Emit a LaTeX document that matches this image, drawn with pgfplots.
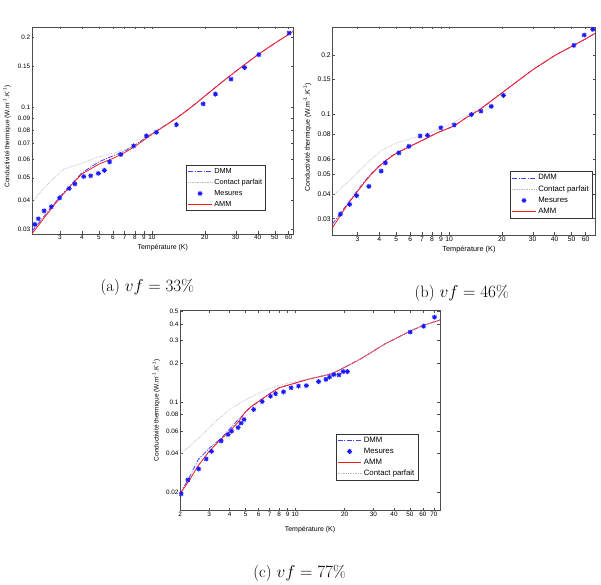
\documentclass[border=0pt]{standalone}
\usepackage{pgfplots}
\pgfplotsset{compat=1.18}
\usepackage{fontspec}
\newfontfamily\arial{Liberation Sans}

\definecolor{dmmblue}{rgb}{0.25,0.25,1}
\definecolor{cpgray}{rgb}{0.72,0.72,0.78}
\definecolor{mesblue}{rgb}{0.1,0.1,1}
\definecolor{ammred}{rgb}{1,0.1,0.1}

\pgfdeclareplotmark{mstar}{%
  \pgfpathmoveto{\pgfqpoint{-\pgfplotmarksize}{0pt}}\pgfpathlineto{\pgfqpoint{\pgfplotmarksize}{0pt}}%
  \pgfpathmoveto{\pgfqpoint{0pt}{-\pgfplotmarksize}}\pgfpathlineto{\pgfqpoint{0pt}{\pgfplotmarksize}}%
  \pgfpathmoveto{\pgfqpoint{-.707\pgfplotmarksize}{-.707\pgfplotmarksize}}\pgfpathlineto{\pgfqpoint{.707\pgfplotmarksize}{.707\pgfplotmarksize}}%
  \pgfpathmoveto{\pgfqpoint{-.707\pgfplotmarksize}{.707\pgfplotmarksize}}\pgfpathlineto{\pgfqpoint{.707\pgfplotmarksize}{-.707\pgfplotmarksize}}%
  \pgfusepathqstroke}

\pgfplotsset{
  legend image code/.code={\draw[mark repeat=2,mark phase=2,#1] plot coordinates {(0cm,0cm) (0.42cm,0cm) (0.84cm,0cm)};},
  mstyle/.style={
    scale only axis,
    axis line style={black!70, line width=0.5pt},
    tick style={black!70, line width=0.4pt},
    tick align=inside, major tick length=2.5pt,
    minor xtick={}, minor ytick={},
    xticklabel style={font=\arial\fontsize{6.4}{7}\selectfont, inner sep=1.5pt},
    yticklabel style={font=\arial\fontsize{6.4}{7}\selectfont, inner sep=1.5pt},
    xlabel style={font=\arial\fontsize{7}{8}\selectfont},
    ylabel style={font=\arial\fontsize{6.6}{8}\selectfont},
    legend style={font=\arial\fontsize{7.4}{8}\selectfont, draw=black!80, fill=white,
      inner xsep=1.5pt, inner ysep=1pt, row sep=0.3pt,
      nodes={inner sep=2pt}},
    legend cell align=left,
  },
}

\begin{document}
\begin{tikzpicture}[x=1pt,y=1pt]
\path (0,0) rectangle (601,587);

% ---------------- (a) vf = 33% ----------------
\begin{loglogaxis}[mstyle,
  at={(29pt,352pt)}, anchor=south west, width=263pt, height=208pt,
  xmin=2.08, xmax=64, ymin=0.0288, ymax=0.221,
  xtick={3,4,5,6,7,8,9,10,20,30,40,50,60},
  xticklabels={3,4,5,6,7,8,9,10,20,30,40,50,60},
  ytick={0.03,0.04,0.05,0.06,0.07,0.08,0.09,0.1,0.15,0.2},
  yticklabels={0.03,0.04,0.05,0.06,0.07,0.08,0.09,0.1,0.15,0.2},
  xlabel={Température (K)},
  xlabel style={at={(axis description cs:0.5,-0.068)}, anchor=center},
  ylabel={Conductivité thermique (W.m\textsuperscript{-1}.K\textsuperscript{-1})},
  ylabel style={at={(axis description cs:-0.095,0.47)}, anchor=center},
  legend style={at={(0.894,0.111)}, anchor=south east},
]
\addplot[color=dmmblue, line width=0.8pt, dash pattern=on 5pt off 1.5pt on 1pt off 1.5pt, mark=none] coordinates {(2.08,0.0295) (2.5,0.035) (3,0.0415) (3.5,0.047) (4,0.0525) (5,0.0585) (6,0.062) (7,0.065) (8,0.069) (10,0.0772) (12,0.0842) (14,0.0908) (16,0.0978) (18,0.1048) (20,0.112) (25,0.1283) (30,0.1428) (40,0.168) (50,0.188) (64,0.212)};
\addlegendentry{DMM}
\addplot[color=cpgray, line width=0.7pt, densely dotted, mark=none] coordinates {(2.08,0.039) (2.3,0.043) (2.67,0.0486) (3.17,0.0545) (3.94,0.0575) (4.9,0.0612) (6.08,0.0638) (7.56,0.0673) (10,0.0772) (12,0.0842) (14,0.0908) (16,0.0978) (18,0.1048) (20,0.112) (30,0.1428) (40,0.168) (64,0.213)};
\addlegendentry{Contact parfait}
\addplot[only marks, mark=mstar, color=mesblue, mark size=2.5pt, line width=0.9pt] coordinates {(2.16,0.0316) (2.26,0.0334) (2.44,0.0361) (2.68,0.0376) (2.99,0.0410) (3.39,0.0450) (3.65,0.0471) (4.10,0.0506) (4.49,0.0510) (4.96,0.0522) (5.37,0.0538) (5.75,0.0585) (6.67,0.0629) (7.87,0.0684) (9.31,0.0755) (10.6,0.0782) (13.8,0.0843) (19.6,0.1035) (23.0,0.114) (28.2,0.132) (33.7,0.148) (40.6,0.168) (60.3,0.208)};
\addlegendentry{Mesures}
\addplot[color=ammred, line width=0.8pt, mark=none] coordinates {(2.08,0.0288) (2.5,0.0345) (3,0.041) (3.5,0.0467) (4,0.0519) (5,0.0572) (6,0.0605) (7,0.0641) (8,0.068) (10,0.0767) (12,0.0838) (14,0.0905) (16,0.0975) (18,0.1045) (20,0.1117) (25,0.128) (30,0.1425) (40,0.168) (50,0.188) (60,0.205) (64,0.212)};
\addlegendentry{AMM}
\end{loglogaxis}

% ---------------- (b) vf = 46% ----------------
\begin{loglogaxis}[mstyle,
  at={(331pt,351pt)}, anchor=south west, width=264pt, height=209pt,
  xmin=2.16, xmax=68, ymin=0.0249, ymax=0.276,
  xtick={3,4,5,6,7,8,9,10,20,30,40,50,60},
  xticklabels={3,4,5,6,7,8,9,10,20,30,40,50,60},
  ytick={0.03,0.04,0.05,0.06,0.08,0.1,0.15,0.2},
  yticklabels={0.03,0.04,0.05,0.06,0.08,0.1,0.15,0.2},
  xticklabel style={font=\arial\fontsize{6.8}{7}\selectfont},
  yticklabel style={font=\arial\fontsize{6.8}{7}\selectfont},
  xlabel={Température (K)},
  xlabel style={at={(axis description cs:0.52,-0.072)}, anchor=center, font=\arial\fontsize{7.4}{8}\selectfont},
  ylabel={Conductivité thermique (W.m\textsuperscript{-1}.K\textsuperscript{-1})},
  ylabel style={at={(axis description cs:-0.095,0.47)}, anchor=center, font=\arial\fontsize{7}{8}\selectfont},
  legend style={at={(0.99,0.08)}, anchor=south east, font=\arial\fontsize{7.8}{8}\selectfont},
]
\addplot[color=dmmblue, line width=0.8pt, dash pattern=on 5pt off 1.5pt on 1pt off 1.5pt, mark=none] coordinates {(2.16,0.0282) (2.5,0.0335) (3.03,0.042) (3.3,0.0462) (3.6,0.0505) (3.95,0.0548) (4.29,0.0582) (4.7,0.0620) (5.11,0.0647) (6.08,0.0698) (7.23,0.0752) (8.6,0.0812) (10.7,0.0878) (12.5,0.0965) (15,0.1062) (20,0.1287) (30,0.168) (40,0.198) (50,0.220) (60,0.240) (68,0.256)};
\addlegendentry{DMM}
\addplot[color=cpgray, line width=0.7pt, densely dotted, mark=none] coordinates {(2.16,0.039) (2.76,0.0474) (3.42,0.0574) (4.1,0.066) (5.0,0.0720) (6.6,0.0775) (8,0.0818) (10,0.089) (15,0.1075) (20,0.129) (30,0.168) (40,0.198) (68,0.256)};
\addlegendentry{Contact parfait}
\addplot[only marks, mark=mstar, color=mesblue, mark size=2.5pt, line width=0.9pt] coordinates {(2.40,0.0316) (2.71,0.0354) (2.97,0.0392) (3.49,0.0436) (4.10,0.052) (4.33,0.0572) (5.17,0.0642) (5.90,0.0693) (6.84,0.0781) (7.53,0.0787) (8.97,0.0859) (10.7,0.0887) (13.4,0.100) (15.2,0.104) (17.4,0.110) (20.4,0.125) (51.5,0.223) (59.0,0.251) (66.0,0.268)};
\addlegendentry{Mesures}
\addplot[color=ammred, line width=0.8pt, mark=none] coordinates {(2.16,0.0270) (2.23,0.0282) (2.65,0.0356) (3.03,0.0415) (3.3,0.0458) (3.60,0.0502) (3.95,0.0545) (4.29,0.0580) (4.7,0.0617) (5.11,0.0645) (6.08,0.0697) (7.23,0.0751) (8.6,0.0811) (10.7,0.0877) (12.5,0.0964) (15,0.106) (20,0.1285) (30,0.168) (40,0.198) (50,0.220) (60,0.240) (68,0.256)};
\addlegendentry{AMM}
\end{loglogaxis}

% ---------------- (c) vf = 77% ----------------
\begin{loglogaxis}[mstyle,
  at={(178pt,74pt)}, anchor=south west, width=261pt, height=201pt,
  xmin=2, xmax=76, ymin=0.0146, ymax=0.51,
  xtick={2,3,4,5,6,7,8,9,10,20,30,40,50,60,70},
  xticklabels={2,3,4,5,6,7,8,9,10,20,30,40,50,60,70},
  ytick={0.02,0.04,0.06,0.08,0.1,0.2,0.3,0.4,0.5},
  yticklabels={0.02,0.04,0.06,0.08,0.1,0.2,0.3,0.4,0.5},
  xlabel={Température (K)},
  xlabel style={at={(axis description cs:0.5,-0.094)}, anchor=center},
  ylabel={Conductivité thermique (W.m\textsuperscript{-1}.K\textsuperscript{-1})},
  ylabel style={at={(axis description cs:-0.092,0.5)}, anchor=center},
  legend style={at={(0.916,0.149)}, anchor=south east, font=\arial\fontsize{7.8}{8}\selectfont},
]
\addplot[color=dmmblue, line width=0.8pt, dash pattern=on 5pt off 1.5pt on 1pt off 1.5pt, mark=none] coordinates {(2.0,0.0196) (2.3,0.027) (2.57,0.0359) (3,0.044) (3.56,0.0527) (4,0.062) (4.5,0.073) (5.28,0.0895) (6,0.101) (7,0.116) (8,0.129) (10,0.140) (12,0.150) (15,0.160) (17,0.167) (20,0.186) (25,0.215) (30,0.248) (35,0.28) (40,0.305) (50,0.352) (60,0.39) (76,0.43)};
\addlegendentry{DMM}
\addplot[only marks, mark=mstar, color=mesblue, mark size=2.5pt, line width=0.9pt] coordinates {(2.03,0.0196) (2.23,0.0251) (2.59,0.0305) (2.88,0.0364) (3.10,0.0417) (3.55,0.0502) (3.91,0.0562) (4.11,0.0597) (4.50,0.0637) (4.69,0.0688) (4.89,0.0734) (5.60,0.0877) (6.31,0.101) (7.09,0.111) (7.61,0.116) (8.51,0.120) (9.46,0.129) (10.5,0.133) (11.7,0.134) (13.9,0.144) (15.4,0.150) (16.2,0.156) (17.2,0.163) (18.5,0.162) (19.6,0.172) (20.8,0.172) (50.2,0.347) (60.5,0.385) (70.5,0.452)};
\addlegendentry{Mesures}
\addplot[color=ammred, line width=0.8pt, mark=none] coordinates {(2.0,0.0196) (2.3,0.0255) (2.57,0.0322) (3,0.0417) (3.5,0.051) (4,0.0594) (4.5,0.070) (5,0.0845) (5.5,0.094) (6,0.101) (7,0.116) (8,0.129) (10,0.140) (12,0.150) (15,0.160) (17,0.167) (20,0.185) (25,0.215) (30,0.248) (35,0.28) (40,0.305) (50,0.352) (60,0.39) (76,0.43)};
\addlegendentry{AMM}
\addplot[color=cpgray, line width=0.7pt, densely dotted, mark=none] coordinates {(2.0,0.0395) (2.59,0.0527) (3.27,0.0708) (4.1,0.0897) (5.2,0.107) (6.6,0.124) (8.3,0.136) (10.5,0.146) (12,0.151) (15,0.161) (17,0.168) (20,0.186) (25,0.215) (30,0.248) (35,0.28) (40,0.305) (50,0.352) (60,0.39) (76,0.43)};
\addlegendentry{Contact parfait}
\end{loglogaxis}

% ---------------- captions ----------------
\node[font=\fontsize{16.5}{18}\selectfont] at (145,298) {(a) $vf = 33\%$};
\node[font=\fontsize{16.5}{18}\selectfont] at (461,292) {(b) $vf = 46\%$};
\node[font=\fontsize{16.5}{18}\selectfont] at (298,11) {(c) $vf = 77\%$};
\end{tikzpicture}
\end{document}
